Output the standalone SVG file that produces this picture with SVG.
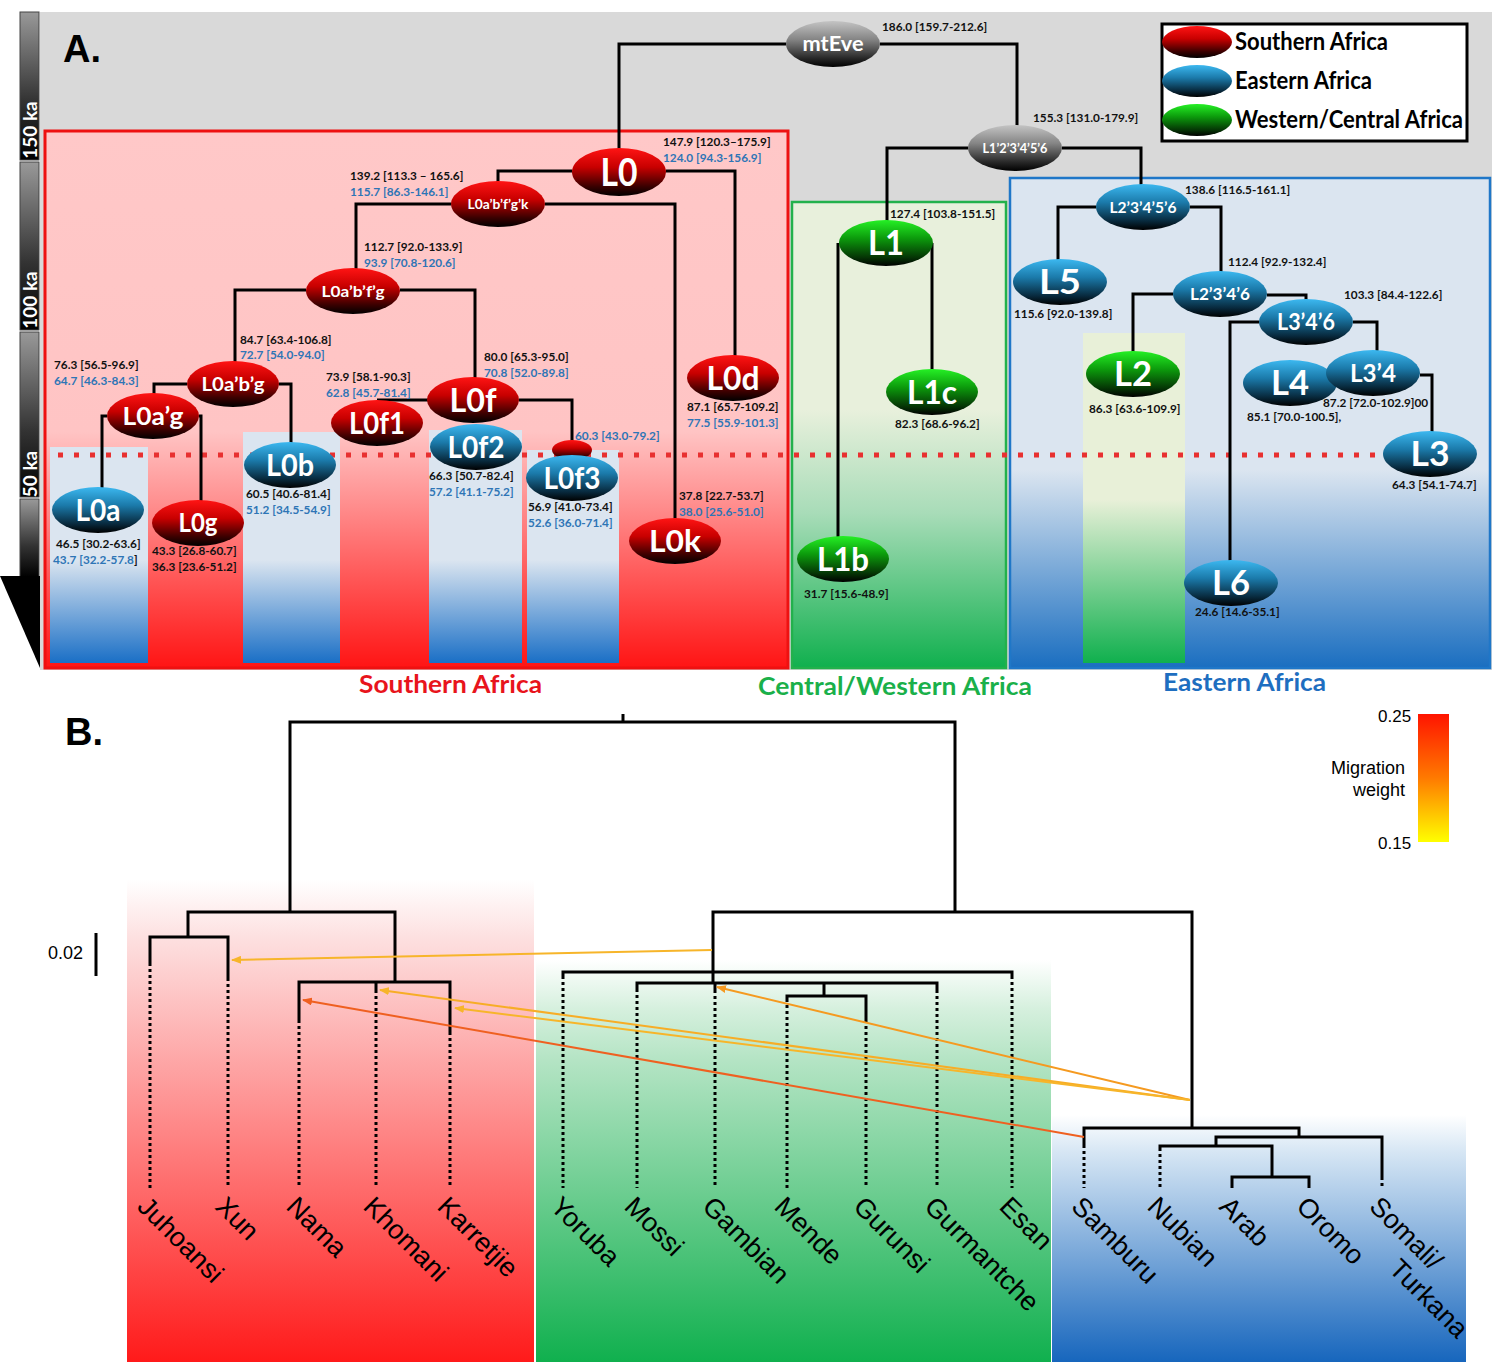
<svg xmlns="http://www.w3.org/2000/svg" width="1498" height="1362" viewBox="0 0 1498 1362">
<defs>
<style>
.nl{font-family:Lato,"Open Sans","Liberation Sans",sans-serif;font-weight:700;fill:#fff;text-anchor:middle}
.d{font-family:Lato,"Open Sans","Liberation Sans",sans-serif;font-weight:700;font-size:11.8px;fill:#111}
.db{fill:#2e75b6}
.ln{fill:none;stroke:#000;stroke-width:3}
.dot{fill:none;stroke:#000;stroke-width:3;stroke-dasharray:3 3}
.lab{font-family:"Liberation Sans",Arial,sans-serif;font-size:27px;fill:#000}
.reg{font-family:Lato,"Open Sans","Liberation Sans",sans-serif;font-weight:700;font-size:24px}
.mig{fill:none;stroke-width:2}
</style>
<linearGradient id="gR" x1="0" y1="0" x2="0" y2="1"><stop offset="0" stop-color="#ff1414"/><stop offset="0.4" stop-color="#c80000"/><stop offset="0.8" stop-color="#3a0000"/><stop offset="1" stop-color="#000"/></linearGradient>
<linearGradient id="gB" x1="0" y1="0" x2="0" y2="1"><stop offset="0" stop-color="#3cb8f0"/><stop offset="0.4" stop-color="#1b7aaa"/><stop offset="0.8" stop-color="#082a3e"/><stop offset="1" stop-color="#000"/></linearGradient>
<linearGradient id="gG" x1="0" y1="0" x2="0" y2="1"><stop offset="0" stop-color="#25f025"/><stop offset="0.4" stop-color="#0c9a0c"/><stop offset="0.8" stop-color="#053805"/><stop offset="1" stop-color="#000"/></linearGradient>
<linearGradient id="gK" x1="0" y1="0" x2="0" y2="1"><stop offset="0" stop-color="#c4c4c4"/><stop offset="0.4" stop-color="#858585"/><stop offset="0.8" stop-color="#2a2a2a"/><stop offset="1" stop-color="#000"/></linearGradient>
<linearGradient id="bar" x1="0" y1="0" x2="0" y2="1"><stop offset="0" stop-color="#999"/><stop offset="0.6" stop-color="#333"/><stop offset="1" stop-color="#000"/></linearGradient>
<linearGradient id="redBox" gradientUnits="userSpaceOnUse" x1="0" y1="131" x2="0" y2="668"><stop offset="0" stop-color="#ffc8c8"/><stop offset="0.56" stop-color="#ffc4c4"/><stop offset="1" stop-color="#ff1414"/></linearGradient>
<linearGradient id="blueCol" gradientUnits="userSpaceOnUse" x1="0" y1="560" x2="0" y2="663"><stop offset="0" stop-color="#dbe5f0"/><stop offset="1" stop-color="#1a6fc6"/></linearGradient>
<linearGradient id="greenBox" gradientUnits="userSpaceOnUse" x1="0" y1="410" x2="0" y2="668"><stop offset="0" stop-color="#e8f0dc"/><stop offset="0.4" stop-color="#a8dcb8"/><stop offset="1" stop-color="#10b04e"/></linearGradient>
<linearGradient id="blueBox" gradientUnits="userSpaceOnUse" x1="0" y1="470" x2="0" y2="668"><stop offset="0" stop-color="#dbe5f0"/><stop offset="1" stop-color="#1a6ec0"/></linearGradient>
<linearGradient id="l2Col" gradientUnits="userSpaceOnUse" x1="0" y1="500" x2="0" y2="663"><stop offset="0" stop-color="#e8f0d8"/><stop offset="1" stop-color="#10b04e"/></linearGradient>
<linearGradient id="bRed" x1="0" y1="0" x2="0" y2="1"><stop offset="0" stop-color="#fff"/><stop offset="0.12" stop-color="#fde0e0"/><stop offset="1" stop-color="#ff1a1a"/></linearGradient>
<linearGradient id="bGreen" x1="0" y1="0" x2="0" y2="1"><stop offset="0" stop-color="#fff"/><stop offset="0.12" stop-color="#d6f0de"/><stop offset="0.25" stop-color="#b4e4c4"/><stop offset="1" stop-color="#10b04e"/></linearGradient>
<linearGradient id="bBlue" x1="0" y1="0" x2="0" y2="1"><stop offset="0" stop-color="#fff"/><stop offset="0.15" stop-color="#d6e6f4"/><stop offset="1" stop-color="#1766bd"/></linearGradient>
<linearGradient id="migW" x1="0" y1="0" x2="0" y2="1"><stop offset="0" stop-color="#ff1400"/><stop offset="0.5" stop-color="#ff7a00"/><stop offset="1" stop-color="#ffff00"/></linearGradient>
<marker id="mY" markerUnits="userSpaceOnUse" markerWidth="10" markerHeight="8" refX="9" refY="4" orient="auto"><path d="M0,0 L10,4 L0,8 z" fill="#f7b52a"/></marker>
<marker id="mO" markerUnits="userSpaceOnUse" markerWidth="10" markerHeight="8" refX="9" refY="4" orient="auto"><path d="M0,0 L10,4 L0,8 z" fill="#f59a20"/></marker>
<marker id="mR" markerUnits="userSpaceOnUse" markerWidth="10" markerHeight="8" refX="9" refY="4" orient="auto"><path d="M0,0 L10,4 L0,8 z" fill="#ef6020"/></marker>
</defs>

<rect x="0" y="0" width="1498" height="1362" fill="#fff"/>

<!-- Panel A backgrounds -->
<g id="panelA-bg">
<rect x="40" y="12" width="1452" height="658" fill="#d9d9d9"/>
<rect x="45" y="131" width="743" height="537" fill="url(#redBox)" stroke="#ee1111" stroke-width="3"/>
<rect x="50" y="447" width="98" height="216" fill="url(#blueCol)"/>
<rect x="243" y="432" width="97" height="231" fill="url(#blueCol)"/>
<rect x="429" y="430" width="93" height="233" fill="url(#blueCol)"/>
<rect x="527" y="450" width="92" height="213" fill="url(#blueCol)"/>
<rect x="792" y="202" width="214" height="466" fill="url(#greenBox)" stroke="#22b14c" stroke-width="2.5"/>
<rect x="1010" y="178" width="480" height="490" fill="url(#blueBox)" stroke="#1f77c8" stroke-width="2.5"/>
<rect x="1083" y="333" width="102" height="330" fill="url(#l2Col)"/>
<line x1="58" y1="455" x2="1382" y2="455" stroke="#e83030" stroke-width="5" stroke-dasharray="5 11"/>
</g>

<!-- Time scale -->
<g id="timescale">
<rect x="20" y="12" width="19" height="148" fill="url(#bar)" stroke="#444" stroke-width="1"/>
<rect x="20" y="162" width="19" height="168" fill="url(#bar)" stroke="#444" stroke-width="1"/>
<rect x="20" y="332" width="19" height="165" fill="url(#bar)" stroke="#444" stroke-width="1"/>
<rect x="20" y="499" width="19" height="78" fill="url(#bar)" stroke="#444" stroke-width="1"/>
<path d="M0 576 L40 576 L40 668 Z" fill="#000"/>
<text transform="translate(37,130) rotate(-90)" class="nl" font-size="19">150 ka</text>
<text transform="translate(37,300) rotate(-90)" class="nl" font-size="19">100 ka</text>
<text transform="translate(37,474) rotate(-90)" class="nl" font-size="19">50 ka</text>
</g>

<text x="63" y="62" font-family="Liberation Sans,Arial,sans-serif" font-weight="700" font-size="38" fill="#000">A.</text>

<!-- Connectors panel A -->
<g id="connectors-A">
<path class="ln" d="M786 44 H619 V150"/>
<path class="ln" d="M880 44 H1017 V127"/>
<path class="ln" d="M572 171 H498 V183"/>
<path class="ln" d="M666 171 H735 V357"/>
<path class="ln" d="M451 204 H356 V270"/>
<path class="ln" d="M545 204 H675 V520"/>
<path class="ln" d="M306 290 H235 V363"/>
<path class="ln" d="M400 290 H475 V380"/>
<path class="ln" d="M187 384 H154 V395"/>
<path class="ln" d="M279 384 H291 V444"/>
<path class="ln" d="M107 416 H102 V489"/>
<path class="ln" d="M199 416 H201 V502"/>
<path class="ln" d="M377 400 H473"/>
<path class="ln" d="M519 400 H572 V442"/>
<path class="ln" d="M968 148 H887 V222"/>
<path class="ln" d="M1062 148 H1141 V186"/>
<path class="ln" d="M838 243 V538"/>
<path class="ln" d="M932 243 V371"/>
<path class="ln" d="M1096 207 H1058 V261"/>
<path class="ln" d="M1190 207 H1221 V272"/>
<path class="ln" d="M1173 294 H1133 V353"/>
<path class="ln" d="M1267 295 H1306 V301"/>
<path class="ln" d="M1259 322 H1230 V562"/>
<path class="ln" d="M1353 322 H1377 V352"/>
<path class="ln" d="M1420 375 H1432 V433"/>
</g>

<!-- Nodes panel A -->
<g id="n-mtEve"><ellipse cx="833" cy="44" rx="47" ry="23" fill="url(#gK)"/><text class="nl" x="833" y="51" font-size="20" textLength="61" lengthAdjust="spacingAndGlyphs">mtEve</text></g>
<g id="n-L123456"><ellipse cx="1015" cy="148" rx="47" ry="23" fill="url(#gK)"/><text class="nl" x="1015" y="153" font-size="13" textLength="65" lengthAdjust="spacingAndGlyphs">L1’2’3’4’5’6</text></g>
<g id="n-L0"><ellipse cx="619" cy="172" rx="47" ry="24" fill="url(#gR)"/><text class="nl" x="619" y="186" font-size="38" textLength="37" lengthAdjust="spacingAndGlyphs">L0</text></g>
<g id="n-L0abfgk"><ellipse cx="498" cy="204" rx="47" ry="23" fill="url(#gR)"/><text class="nl" x="498" y="209" font-size="13" textLength="61" lengthAdjust="spacingAndGlyphs">L0a’b’f’g’k</text></g>
<g id="n-L0abfg"><ellipse cx="353" cy="291" rx="47" ry="23" fill="url(#gR)"/><text class="nl" x="353" y="297" font-size="16" textLength="63" lengthAdjust="spacingAndGlyphs">L0a’b’f’g</text></g>
<g id="n-L0abg"><ellipse cx="233" cy="384" rx="46" ry="23" fill="url(#gR)"/><text class="nl" x="233" y="391" font-size="18" textLength="63" lengthAdjust="spacingAndGlyphs">L0a’b’g</text></g>
<g id="n-L0ag"><ellipse cx="153" cy="416" rx="46" ry="23" fill="url(#gR)"/><text class="nl" x="153" y="425" font-size="24" textLength="61" lengthAdjust="spacingAndGlyphs">L0a’g</text></g>
<g id="n-L0d"><ellipse cx="733" cy="378" rx="46" ry="23" fill="url(#gR)"/><text class="nl" x="733" y="390" font-size="32" textLength="53" lengthAdjust="spacingAndGlyphs">L0d</text></g>
<g id="n-L0f1"><ellipse cx="377" cy="423" rx="46" ry="23" fill="url(#gR)"/><text class="nl" x="377" y="434" font-size="30" textLength="56" lengthAdjust="spacingAndGlyphs">L0f1</text></g>
<g id="n-L0f"><ellipse cx="473" cy="400" rx="46" ry="23" fill="url(#gR)"/><text class="nl" x="473" y="412" font-size="32" textLength="47" lengthAdjust="spacingAndGlyphs">L0f</text></g>
<g id="n-L0f2"><ellipse cx="476" cy="447" rx="46" ry="23" fill="url(#gB)"/><text class="nl" x="476" y="458" font-size="30" textLength="57" lengthAdjust="spacingAndGlyphs">L0f2</text></g>
<g id="n-L0f3red"><ellipse cx="572" cy="450" rx="20" ry="10" fill="url(#gR)"/></g>
<g id="n-L0f3"><ellipse cx="572" cy="478" rx="46" ry="23" fill="url(#gB)"/><text class="nl" x="572" y="489" font-size="30" textLength="57" lengthAdjust="spacingAndGlyphs">L0f3</text></g>
<g id="n-L0b"><ellipse cx="290" cy="465" rx="46" ry="23" fill="url(#gB)"/><text class="nl" x="290" y="476" font-size="30" textLength="48" lengthAdjust="spacingAndGlyphs">L0b</text></g>
<g id="n-L0a"><ellipse cx="98" cy="510" rx="46" ry="23" fill="url(#gB)"/><text class="nl" x="98" y="521" font-size="30" textLength="45" lengthAdjust="spacingAndGlyphs">L0a</text></g>
<g id="n-L0g"><ellipse cx="198" cy="523" rx="46" ry="23" fill="url(#gR)"/><text class="nl" x="198" y="532" font-size="26" textLength="39" lengthAdjust="spacingAndGlyphs">L0g</text></g>
<g id="n-L0k"><ellipse cx="675" cy="541" rx="46" ry="23" fill="url(#gR)"/><text class="nl" x="675" y="552" font-size="30" textLength="52" lengthAdjust="spacingAndGlyphs">L0k</text></g>
<g id="n-L1"><ellipse cx="886" cy="243" rx="47" ry="23" fill="url(#gG)"/><text class="nl" x="886" y="255" font-size="34" textLength="36" lengthAdjust="spacingAndGlyphs">L1</text></g>
<g id="n-L1c"><ellipse cx="932" cy="392" rx="46" ry="23" fill="url(#gG)"/><text class="nl" x="932" y="404" font-size="32" textLength="50" lengthAdjust="spacingAndGlyphs">L1c</text></g>
<g id="n-L1b"><ellipse cx="843" cy="559" rx="46" ry="23" fill="url(#gG)"/><text class="nl" x="843" y="571" font-size="32" textLength="52" lengthAdjust="spacingAndGlyphs">L1b</text></g>
<g id="n-L23456"><ellipse cx="1143" cy="207" rx="47" ry="23" fill="url(#gB)"/><text class="nl" x="1143" y="213" font-size="16" textLength="67" lengthAdjust="spacingAndGlyphs">L2’3’4’5’6</text></g>
<g id="n-L5"><ellipse cx="1060" cy="282" rx="47" ry="23" fill="url(#gB)"/><text class="nl" x="1060" y="294" font-size="34" textLength="42" lengthAdjust="spacingAndGlyphs">L5</text></g>
<g id="n-L2346"><ellipse cx="1220" cy="294" rx="47" ry="23" fill="url(#gB)"/><text class="nl" x="1220" y="300" font-size="17" textLength="60" lengthAdjust="spacingAndGlyphs">L2’3’4’6</text></g>
<g id="n-L346"><ellipse cx="1306" cy="322" rx="47" ry="23" fill="url(#gB)"/><text class="nl" x="1306" y="330" font-size="22" textLength="58" lengthAdjust="spacingAndGlyphs">L3’4’6</text></g>
<g id="n-L2"><ellipse cx="1133" cy="374" rx="47" ry="23" fill="url(#gG)"/><text class="nl" x="1133" y="386" font-size="34" textLength="38" lengthAdjust="spacingAndGlyphs">L2</text></g>
<g id="n-L4"><ellipse cx="1290" cy="383" rx="47" ry="23" fill="url(#gB)"/><text class="nl" x="1290" y="395" font-size="34" textLength="38" lengthAdjust="spacingAndGlyphs">L4</text></g>
<g id="n-L34"><ellipse cx="1373" cy="373" rx="47" ry="23" fill="url(#gB)"/><text class="nl" x="1373" y="382" font-size="24" textLength="46" lengthAdjust="spacingAndGlyphs">L3’4</text></g>
<g id="n-L3"><ellipse cx="1430" cy="454" rx="47" ry="23" fill="url(#gB)"/><text class="nl" x="1430" y="466" font-size="34" textLength="39" lengthAdjust="spacingAndGlyphs">L3</text></g>
<g id="n-L6"><ellipse cx="1231" cy="583" rx="47" ry="23" fill="url(#gB)"/><text class="nl" x="1231" y="595" font-size="34" textLength="38" lengthAdjust="spacingAndGlyphs">L6</text></g>

<!-- Dates -->
<g id="dates">
<text class="d" x="663" y="146">147.9 [120.3–175.9]</text><text class="d db" x="663" y="162">124.0 [94.3-156.9]</text>
<text class="d" x="350" y="180">139.2 [113.3 – 165.6]</text><text class="d db" x="350" y="196">115.7 [86.3-146.1]</text>
<text class="d" x="364" y="251">112.7 [92.0-133.9]</text><text class="d db" x="364" y="267">93.9 [70.8-120.6]</text>
<text class="d" x="240" y="344">84.7 [63.4-106.8]</text><text class="d db" x="240" y="359">72.7 [54.0-94.0]</text>
<text class="d" x="54" y="369">76.3 [56.5-96.9]</text><text class="d db" x="54" y="385">64.7 [46.3-84.3]</text>
<text class="d" x="326" y="381">73.9 [58.1-90.3]</text><text class="d db" x="326" y="397">62.8 [45.7-81.4]</text>
<text class="d" x="484" y="361">80.0 [65.3-95.0]</text><text class="d db" x="484" y="377">70.8 [52.0-89.8]</text>
<text class="d" x="687" y="411">87.1 [65.7-109.2]</text><text class="d db" x="687" y="427">77.5 [55.9-101.3]</text>
<text class="d db" x="575" y="440">60.3 [43.0-79.2]</text>
<text class="d" x="429" y="480">66.3 [50.7-82.4]</text><text class="d db" x="429" y="496">57.2 [41.1-75.2]</text>
<text class="d" x="528" y="511">56.9 [41.0-73.4]</text><text class="d db" x="528" y="527">52.6 [36.0-71.4]</text>
<text class="d" x="679" y="500">37.8 [22.7-53.7]</text><text class="d db" x="679" y="516">38.0 [25.6-51.0]</text>
<text class="d" x="246" y="498">60.5 [40.6-81.4]</text><text class="d db" x="246" y="514">51.2 [34.5-54.9]</text>
<text class="d" x="56" y="548">46.5 [30.2-63.6]</text><text class="d" x="53" y="564"><tspan class="db">43.7 [32.2-57.8</tspan>]</text>
<text class="d" x="152" y="555">43.3 [26.8-60.7]</text><text class="d" x="152" y="571" fill="#4a6cb0">36.3 [23.6-51.2]</text>
<text class="d" x="882" y="31">186.0 [159.7-212.6]</text>
<text class="d" x="1033" y="122">155.3 [131.0-179.9]</text>
<text class="d" x="890" y="218">127.4 [103.8-151.5]</text>
<text class="d" x="1185" y="194">138.6 [116.5-161.1]</text>
<text class="d" x="1228" y="266">112.4 [92.9-132.4]</text>
<text class="d" x="1344" y="299">103.3 [84.4-122.6]</text>
<text class="d" x="1014" y="318">115.6 [92.0-139.8]</text>
<text class="d" x="895" y="428">82.3 [68.6-96.2]</text>
<text class="d" x="1089" y="413">86.3 [63.6-109.9]</text>
<text class="d" x="1323" y="407">87.2 [72.0-102.9]00</text>
<text class="d" x="1247" y="421">85.1 [70.0-100.5],</text>
<text class="d" x="1392" y="489">64.3 [54.1-74.7]</text>
<text class="d" x="804" y="598">31.7 [15.6-48.9]</text>
<text class="d" x="1195" y="616">24.6 [14.6-35.1]</text>
</g>

<!-- Legend A -->
<g id="legendA">
<rect x="1162" y="24" width="305" height="117" fill="#fff" stroke="#000" stroke-width="3"/>
<ellipse cx="1197" cy="42" rx="35" ry="16" fill="url(#gR)"/>
<ellipse cx="1197" cy="81" rx="35" ry="16" fill="url(#gB)"/>
<ellipse cx="1197" cy="120" rx="35" ry="16" fill="url(#gG)"/>
<text class="reg" x="1235" y="50" font-size="22" fill="#000" textLength="153" lengthAdjust="spacingAndGlyphs">Southern Africa</text>
<text class="reg" x="1235" y="89" font-size="22" fill="#000" textLength="137" lengthAdjust="spacingAndGlyphs">Eastern Africa</text>
<text class="reg" x="1235" y="128" font-size="22" fill="#000" textLength="228" lengthAdjust="spacingAndGlyphs">Western/Central Africa</text>
</g>

<g id="region-labels">
<text class="reg" x="359" y="693" fill="#e8141c" textLength="183" lengthAdjust="spacingAndGlyphs">Southern Africa</text>
<text class="reg" x="758" y="695" fill="#1ab04a" textLength="274" lengthAdjust="spacingAndGlyphs">Central/Western Africa</text>
<text class="reg" x="1163" y="691" fill="#1e6ec0" textLength="163" lengthAdjust="spacingAndGlyphs">Eastern Africa</text>
</g>

<!-- Panel B -->
<g id="panelB-bg">
<rect x="127" y="880" width="407" height="482" fill="url(#bRed)"/>
<rect x="536" y="960" width="515" height="402" fill="url(#bGreen)"/>
<rect x="1052" y="1115" width="414" height="247" fill="url(#bBlue)"/>
</g>

<text x="65" y="745" font-family="Liberation Sans,Arial,sans-serif" font-weight="700" font-size="38" fill="#000">B.</text>

<g id="scalebar">
<text x="48" y="959" font-family="Liberation Sans,Arial,sans-serif" font-size="18" fill="#000">0.02</text>
<line x1="96" y1="933" x2="96" y2="976" stroke="#000" stroke-width="3"/>
</g>

<g id="migration-legend">
<rect x="1418" y="714" width="31" height="128" fill="url(#migW)"/>
<text x="1378" y="722" font-family="Liberation Sans,Arial,sans-serif" font-size="17" fill="#000">0.25</text>
<text x="1378" y="849" font-family="Liberation Sans,Arial,sans-serif" font-size="17" fill="#000">0.15</text>
<text x="1405" y="774" text-anchor="end" font-family="Liberation Sans,Arial,sans-serif" font-size="18" fill="#000">Migration</text>
<text x="1405" y="796" text-anchor="end" font-family="Liberation Sans,Arial,sans-serif" font-size="18" fill="#000">weight</text>
</g>

<g id="tree-B">
<path class="ln" d="M623 714 V722"/>
<path class="ln" d="M290 912 V722 H955 V912"/>
<path class="ln" d="M188 937 V912 H395 V982"/>
<path class="ln" d="M150 963 V937 H228 V978"/>
<path class="ln" d="M299 1020 V982 H450 V1032"/>
<path class="ln" d="M376 982 V990"/>
<path class="ln" d="M713 972 V912 H1192 V1128"/>
<path class="ln" d="M563 976 V972 H1012 V976"/>
<path class="ln" d="M713 972 V983"/>
<path class="ln" d="M637 989 V983 H937 V990"/>
<path class="ln" d="M715 983 V990"/>
<path class="ln" d="M824 983 V996"/>
<path class="ln" d="M787 999 V996 H866 V1020"/>
<path class="ln" d="M1084 1145 V1128 H1299 V1137"/>
<path class="ln" d="M1216 1146 V1137 H1382 V1177"/>
<path class="ln" d="M1160 1148 V1146 H1272 V1177"/>
<path class="ln" d="M1232 1188 V1177 H1309 V1188"/>
<path class="dot" d="M150 963 V1188 M228 978 V1188 M299 1020 V1188 M376 990 V1188 M450 1032 V1188 M563 976 V1188 M637 989 V1188 M715 990 V1188 M787 999 V1188 M866 1020 V1188 M937 990 V1188 M1012 976 V1188 M1084 1145 V1188 M1160 1148 V1188 M1382 1177 V1188"/>
</g>

<g id="migrations">
<path class="mig" d="M712 950 L232 960" stroke="#f7b52a" marker-end="url(#mY)"/>
<path class="mig" d="M1190 1100 L717 987" stroke="#f59a20" marker-end="url(#mO)"/>
<path class="mig" d="M1190 1100 L380 990" stroke="#f7ad26" marker-end="url(#mY)"/>
<path class="mig" d="M1190 1100 L455 1008" stroke="#f7b52a" marker-end="url(#mY)"/>
<path class="mig" d="M1084 1137 L303 1000" stroke="#ef6020" marker-end="url(#mR)"/>
</g>

<g id="pop-labels" class="lab">
<text transform="translate(136,1208) rotate(45)">Juhoansi</text>
<text transform="translate(214,1208) rotate(45)">Xun</text>
<text transform="translate(285,1208) rotate(45)">Nama</text>
<text transform="translate(362,1208) rotate(45)">Khomani</text>
<text transform="translate(436,1208) rotate(45)">Karretjie</text>
<text transform="translate(549,1208) rotate(45)">Yoruba</text>
<text transform="translate(623,1208) rotate(45)">Mossi</text>
<text transform="translate(701,1208) rotate(45)">Gambian</text>
<text transform="translate(773,1208) rotate(45)">Mende</text>
<text transform="translate(852,1208) rotate(45)">Gurunsi</text>
<text transform="translate(923,1208) rotate(45)">Gurmantche</text>
<text transform="translate(998,1208) rotate(45)">Esan</text>
<text transform="translate(1070,1208) rotate(45)">Samburu</text>
<text transform="translate(1146,1208) rotate(45)">Nubian</text>
<text transform="translate(1218,1208) rotate(45)">Arab</text>
<text transform="translate(1295,1208) rotate(45)">Oromo</text>
<text transform="translate(1368,1208) rotate(45)">Somali/<tspan x="58" dy="30">Turkana</tspan></text>
</g>
</svg>
